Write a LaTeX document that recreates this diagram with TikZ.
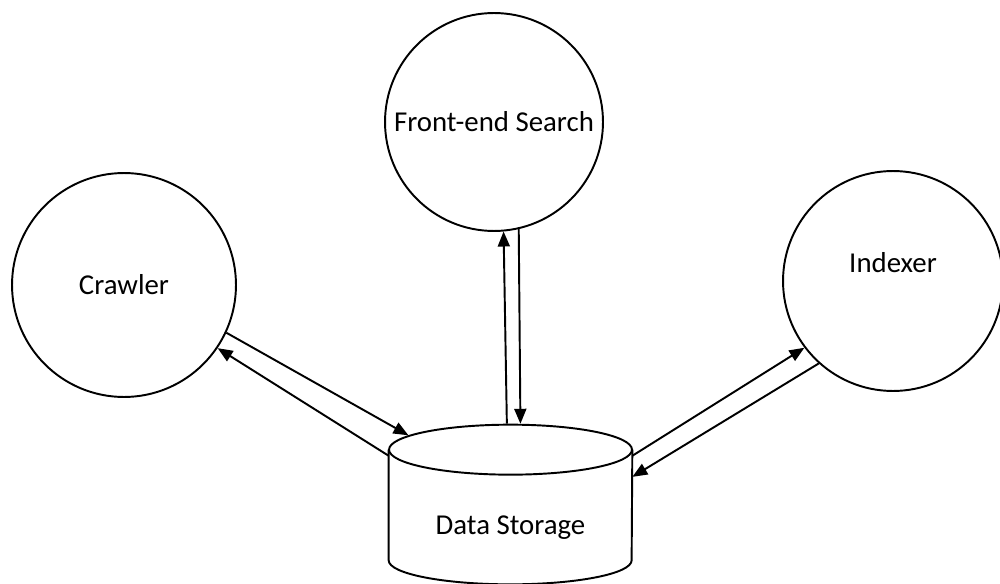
\documentclass[tikz,border=0pt]{standalone}
\usepackage{fontspec}
\setmainfont{Carlito}
\usetikzlibrary{positioning,shapes.geometric,arrows.meta}

\begin{document}
\begin{tikzpicture}[
  x=0.02cm, y=-0.02cm,
  every node/.style={font=\fontsize{16.4}{19}\selectfont},
  proc/.style={circle, draw, line width=1.1pt, minimum size=4.4cm, inner sep=0pt},
  storebody/.style={rectangle, minimum width=4.86cm, minimum height=2.2cm, inner sep=0pt},
  storelid/.style={ellipse, draw, line width=1.1pt, minimum width=4.86cm, minimum height=1cm, inner sep=0pt},
  flow/.style={-{Triangle[length=0.3cm,width=0.24cm]}, line width=1.1pt}
]
  \useasboundingbox (0,0) rectangle (1000,584);

  \node[proc, minimum size=4.48cm] (crawler) at (124,285) {Crawler};
  \node[proc, minimum size=4.36cm] (search) at (494,122) {Front-end Search};
  \node[proc] (indexer) at (893,281) [label={[yshift=0.36cm]center:Indexer}] {};

  % data storage drum
  \node[storebody] (storage) at (510.5,505) [label={[yshift=-0.46cm]center:Data Storage}] {};
  \draw[line width=1.1pt] (storage.north west) -- (storage.south west)
    arc[start angle=180, end angle=360, x radius=2.43cm, y radius=0.48cm] -- (storage.north east);
  \node[storelid] (lid) at (storage.north) {};

  \draw[flow] (crawler.-25) -- (lid.172);
  \draw[flow] (storage.158) -- (crawler.-34);
  \draw[flow] (lid.98) -- (search.-85);
  \draw[flow] (search.-77) -- (lid.69);
  \draw[flow] (storage.22) -- (indexer.-143);
  \draw[flow] (indexer.-132) -- (storage.13);
\end{tikzpicture}
\end{document}
